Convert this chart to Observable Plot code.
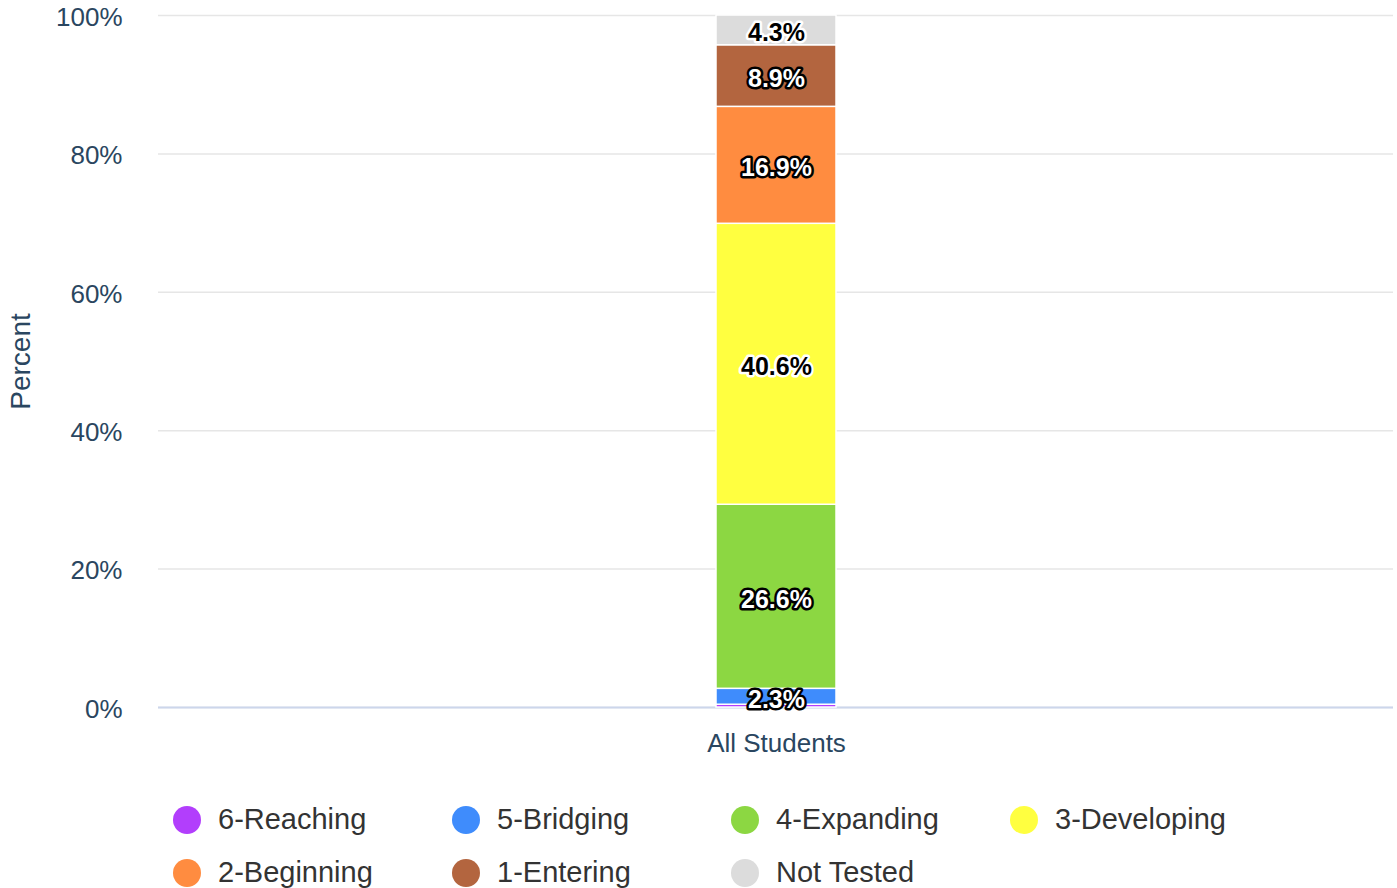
<!DOCTYPE html>
<html>
<head>
<meta charset="utf-8">
<script src="https://cdn.jsdelivr.net/npm/d3@7"></script>
<script src="https://cdn.jsdelivr.net/npm/@observablehq/plot@0.6"></script>
<style>
  html, body { margin: 0; padding: 0; background: #fff; }
  body { width: 1397px; height: 888px; overflow: hidden; font-family: "Liberation Sans", Arial, sans-serif; }
  #legend { display: grid; grid-template-columns: repeat(4, 279px); grid-auto-rows: 53px; margin-left: 173px; margin-top: 26px; }
  .item { display: flex; align-items: center; font-size: 29px; color: #333; }
  .dot { width: 28px; height: 28px; border-radius: 50%; margin-right: 17px; flex: none; }
</style>
</head>
<body>
<div id="chart"></div>
<div id="legend"></div>
<script>
const categories = ["All Students"];
const levels = ["6-Reaching", "5-Bridging", "4-Expanding", "3-Developing", "2-Beginning", "1-Entering", "Not Tested"];
const percents = [0.4, 2.3, 26.6, 40.6, 16.9, 8.9, 4.3];
const colors = ["#b23efc", "#3f8cfc", "#8cd742", "#ffff40", "#ff8c40", "#b3653f", "#dcdcdc"];
const lightLevels = ["3-Developing", "Not Tested"];
const yTicks = [0, 20, 40, 60, 80, 100];

const data = levels.map((level, i) => ({ category: categories[0], level, value: percents[i] }));
const fmt = d => d.value.toFixed(1) + "%";
const shown = d => d.value >= 1;
const isLight = d => lightLevels.includes(d.level);

const chart = Plot.plot({
  width: 1397,
  height: 767,
  marginLeft: 158,
  marginRight: 4,
  marginTop: 15,
  marginBottom: 60,
  style: { fontFamily: "'Liberation Sans', Arial, sans-serif", background: "#fff" },
  x: { domain: categories, padding: 0.8229, label: null },
  y: { domain: [0, 100], label: null },
  color: { domain: levels, range: colors },
  marks: [
    Plot.gridY(yTicks, { stroke: "#e6e6e6", strokeOpacity: 1, strokeWidth: 1.5 }),
    Plot.ruleY([0], { stroke: "#ccd6eb", strokeWidth: 2 }),
    Plot.barY(data, Plot.stackY({ x: "category", y: "value", fill: "level", stroke: "#fff", strokeWidth: 1.5, order: null })),
    Plot.text(data, Plot.stackY({ x: "category", y: "value", text: d => (shown(d) && !isLight(d)) ? fmt(d) : "", fill: "#fff", stroke: "#000", strokeWidth: 5, paintOrder: "stroke", strokeLinejoin: "round", fontSize: 25, fontWeight: "bold", dy: 3, order: null })),
    Plot.text(data, Plot.stackY({ x: "category", y: "value", text: d => (shown(d) && isLight(d)) ? fmt(d) : "", fill: "#000", stroke: "#fff", strokeWidth: 5, paintOrder: "stroke", strokeLinejoin: "round", fontSize: 25, fontWeight: "bold", dy: 3, order: null })),
    Plot.axisY({ ticks: yTicks, tickFormat: d => d + "%", tickSize: 0, tickPadding: 36, fontSize: 26, color: "#2a4660", dy: 2, label: null }),
    Plot.axisY({ ticks: [], tickSize: 0, fontSize: 28, color: "#2a4660", label: "Percent", labelAnchor: "center", labelOffset: 148, labelArrow: "none" }),
    Plot.axisX({ tickSize: 0, tickPadding: 26, fontSize: 26, color: "#2a4660", label: null })
  ]
});
document.getElementById("chart").appendChild(chart);

const legend = document.getElementById("legend");
levels.forEach((level, i) => {
  const item = document.createElement("div");
  item.className = "item";
  const dot = document.createElement("span");
  dot.className = "dot";
  dot.style.background = colors[i];
  const label = document.createElement("span");
  label.textContent = level;
  item.appendChild(dot);
  item.appendChild(label);
  legend.appendChild(item);
});
</script>
</body>
</html>
